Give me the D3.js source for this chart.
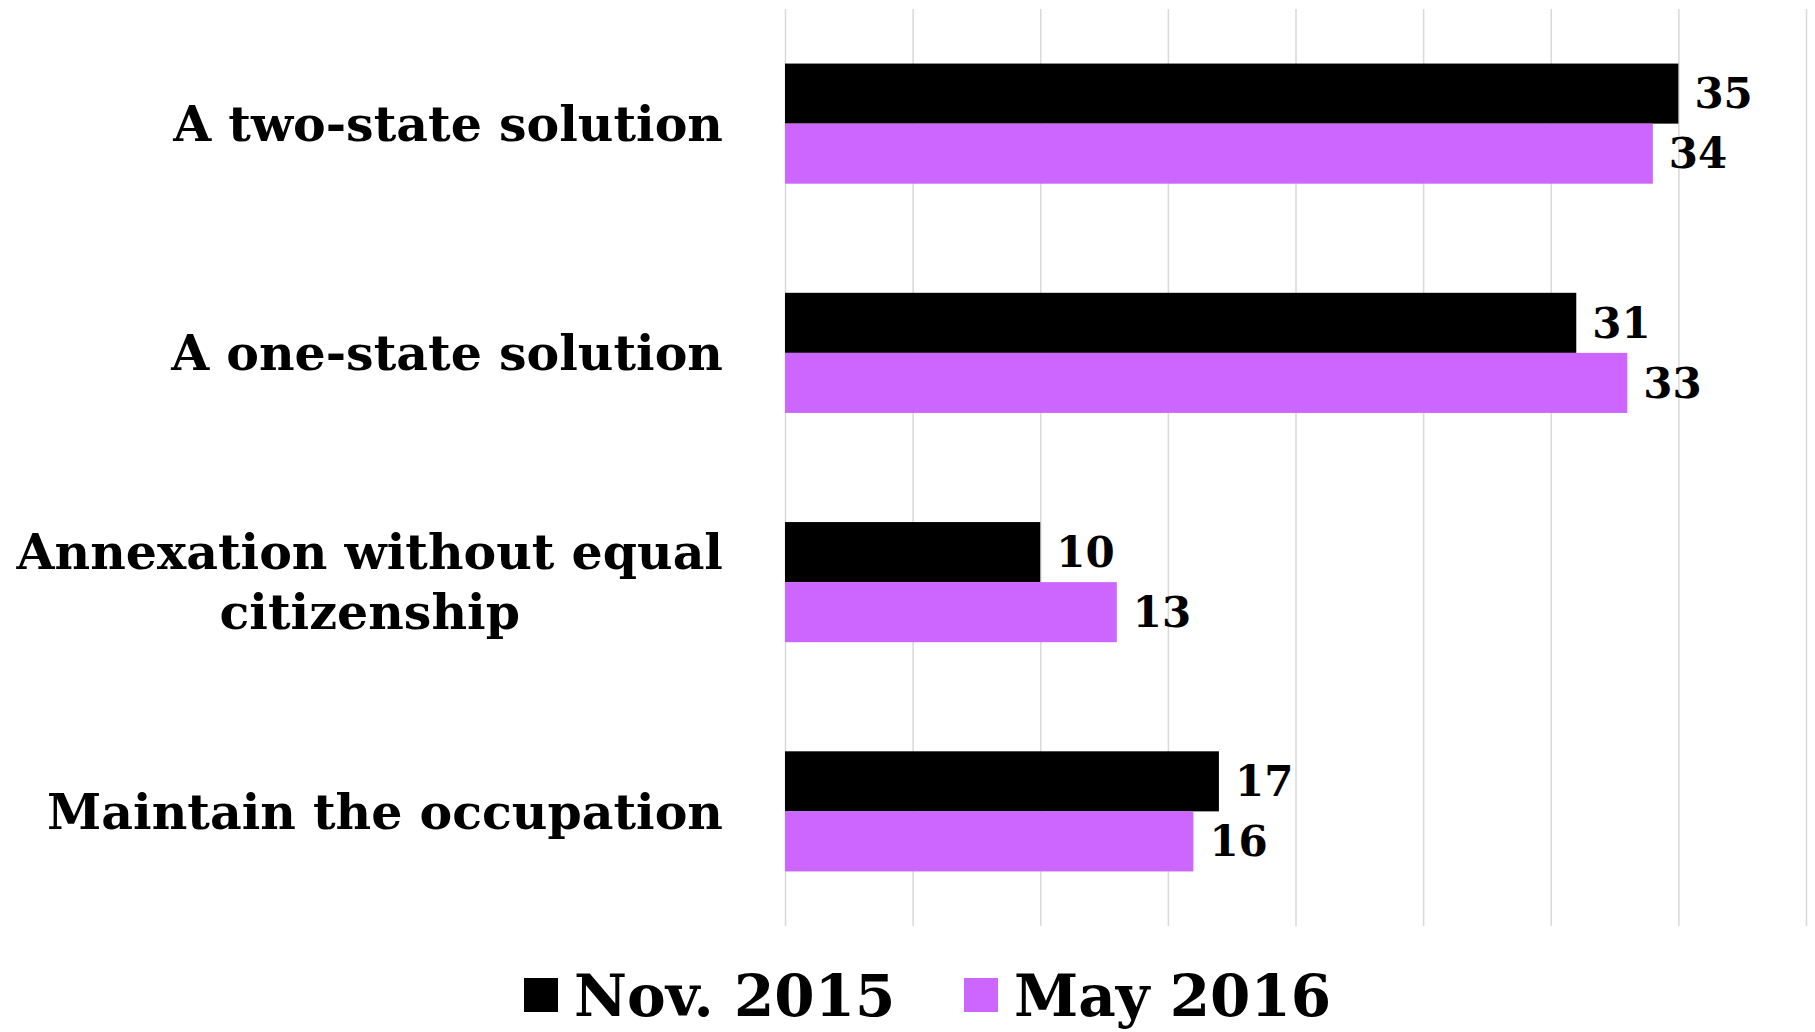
<!DOCTYPE html>
<html>
<head>
<meta charset="utf-8">
<script src="https://cdn.jsdelivr.net/npm/d3@7"></script>
<style>
  body { margin: 0; background: #fff; }
  text { font-family: "DejaVu Serif", serif; font-weight: bold; fill: #000; }
</style>
</head>
<body>
<div id="chart"></div>
<script>
// data
var categories = ["A two-state solution", "A one-state solution", "Annexation without equal citizenship", "Maintain the occupation"];
var labelLines = [["A two-state solution"], ["A one-state solution"], ["Annexation without equal", "citizenship"], ["Maintain the occupation"]];
var seriesNames = ["Nov. 2015", "May 2016"];
var nov2015 = [35, 31, 10, 17];
var may2016 = [34, 33, 13, 16];
var colors = ["#000000", "#cc66ff"];
var xTicks = [0, 5, 10, 15, 20, 25, 30, 35, 40];

var W = 1815, H = 1032;
var svg = d3.select("#chart").append("svg").attr("width", W).attr("height", H);

var x = d3.scaleLinear().domain([0, 40]).range([785, 1806]);
var y = d3.scaleBand().domain(categories).range([9, 926]).paddingInner(0.476).paddingOuter(0.238);
var y1 = d3.scaleBand().domain(seriesNames).range([0, y.bandwidth()]);

// gridlines
svg.append("g").selectAll("line").data(xTicks).enter().append("line")
  .attr("x1", function(d) { return x(d) + 0.5; })
  .attr("x2", function(d) { return x(d) + 0.5; })
  .attr("y1", 9).attr("y2", 926)
  .style("stroke", "#d9d9d9").style("stroke-width", "1.5px");

var series = [nov2015, may2016];
var groups = svg.append("g").selectAll("g").data(categories).enter().append("g")
  .attr("transform", function(d) { return "translate(0," + y(d) + ")"; });

seriesNames.forEach(function(s, si) {
  groups.append("rect")
    .attr("x", x(0))
    .attr("y", y1(s))
    .attr("width", function(d, i) { return x(series[si][i]) - x(0); })
    .attr("height", y1.bandwidth())
    .style("fill", colors[si]);

  groups.append("text")
    .attr("x", function(d, i) { return x(series[si][i]) + 16; })
    .attr("y", y1(s) + y1.bandwidth() / 2)
    .attr("dy", "0.35em")
    .style("font-size", "42px")
    .text(function(d, i) { return series[si][i]; });
});

// category labels
var labels = svg.append("g").selectAll("text").data(categories).enter().append("text")
  .style("font-size", "49px")
  .attr("text-anchor", "end")
  .attr("y", function(d) { return y(d) + y.bandwidth() / 2; });

labels.each(function(d, i) {
  var t = d3.select(this);
  var lines = labelLines[i];
  if (lines.length === 1) {
    t.append("tspan").attr("x", 723).attr("dy", "0.35em").text(lines[0]);
  } else {
    t.attr("text-anchor", "middle");
    var lineH = 60;
    var top = -lineH * (lines.length - 1) / 2;
    lines.forEach(function(l, j) {
      t.append("tspan").attr("x", 368).attr("dy", j === 0 ? (top + 17) + "px" : lineH + "px").text(l);
    });
  }
});

// two-line label: right-align the centred block
labels.filter(function(d, i) { return labelLines[i].length > 1; }).each(function() {
  var bb = this.getBBox();
  var shift = 723 - (bb.x + bb.width);
  d3.select(this).selectAll("tspan").attr("x", function() { return +d3.select(this).attr("x") + shift; });
});

// legend
var legend = svg.append("g").attr("transform", "translate(0,995)");
var lx = [524, 964];
seriesNames.forEach(function(s, i) {
  legend.append("rect").attr("x", lx[i]).attr("y", -17).attr("width", 34).attr("height", 34).style("fill", colors[i]);
  legend.append("text").attr("x", lx[i] + 50).attr("dy", "0.36em").style("font-size", "58px").text(s);
});
</script>
</body>
</html>
